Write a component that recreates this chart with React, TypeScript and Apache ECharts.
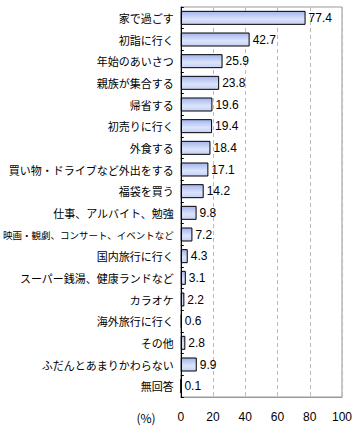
import React, { useEffect, useRef } from "react";
import * as echarts from "echarts";

const categories = [
  "家で過ごす",
  "初詣に行く",
  "年始のあいさつ",
  "親族が集合する",
  "帰省する",
  "初売りに行く",
  "外食する",
  "買い物・ドライブなど外出をする",
  "福袋を買う",
  "仕事、アルバイト、勉強",
  "映画・観劇、コンサート、イベントなど",
  "国内旅行に行く",
  "スーパー銭湯、健康ランドなど",
  "カラオケ",
  "海外旅行に行く",
  "その他",
  "ふだんとあまりかわらない",
  "無回答",
];
const values = [77.4, 42.7, 25.9, 23.8, 19.6, 19.4, 18.4, 17.1, 14.2, 9.8, 7.2, 4.3, 3.1, 2.2, 0.6, 2.8, 9.9, 0.1];
const xTicks = [0, 20, 40, 60, 80, 100];
const unitLabel = "(%)";

const CJK = '"Noto Sans CJK JP", sans-serif';
const NUM = '"Liberation Sans", Arial, sans-serif';

export default function App() {
  const ref = useRef<HTMLDivElement>(null);
  useEffect(() => {
    if (!ref.current) return;
    const chart = echarts.init(ref.current, null, { renderer: "svg" });
    chart.setOption({
      animation: false,
      grid: {
        left: 178,
        right: 13,
        top: 7,
        bottom: 31,
        show: true,
        borderColor: "#999999",
        borderWidth: 1,
        backgroundColor: "transparent",
      },
      xAxis: {
        type: "value",
        min: xTicks[0],
        max: xTicks[xTicks.length - 1],
        interval: 20,
        axisLine: { show: true, lineStyle: { color: "#999999" } },
        axisTick: { show: false },
        splitLine: { show: true, lineStyle: { color: "#bbbbbb", type: [4, 3] } },
        axisLabel: { color: "#000", fontSize: 12, fontFamily: NUM, margin: 14 },
      },
      yAxis: {
        type: "category",
        data: categories,
        inverse: true,
        z: 5,
        axisLine: { show: true, lineStyle: { color: "#000", width: 1 } },
        axisTick: { show: true, inside: true, length: 3, lineStyle: { color: "#000" } },
        axisLabel: {
          margin: 7,
          formatter: (v: string) => (v.length >= 16 ? `{s|${v}}` : `{n|${v}}`),
          rich: {
            n: { fontSize: 11, fontFamily: CJK, color: "#000" },
            s: { fontSize: 9.5, fontFamily: CJK, color: "#000" },
          },
        },
      },
      graphic: [
        {
          type: "text",
          x: 146,
          y: 417,
          style: {
            text: unitLabel,
            fontSize: 12,
            fontFamily: CJK,
            fill: "#000",
            align: "center",
            verticalAlign: "middle",
          },
        },
      ],
      series: [
        {
          type: "bar",
          data: values,
          barWidth: 14,
          itemStyle: {
            color: new echarts.graphic.LinearGradient(0, 0, 0, 1, [
              { offset: 0, color: "#a2b4ee" },
              { offset: 0.6, color: "#dce4fb" },
              { offset: 1, color: "#c4d0f6" },
            ]),
            borderColor: "#000",
            borderWidth: 1,
          },
          label: {
            show: true,
            position: "right",
            distance: 3,
            color: "#000",
            fontSize: 12,
            fontFamily: NUM,
            formatter: (p: any) => p.value.toFixed(1),
          },
        },
      ],
    });
    return () => chart.dispose();
  }, []);
  return <div ref={ref} style={{ width: 355, height: 428, position: "absolute", left: 0, top: 0 }} />;
}
